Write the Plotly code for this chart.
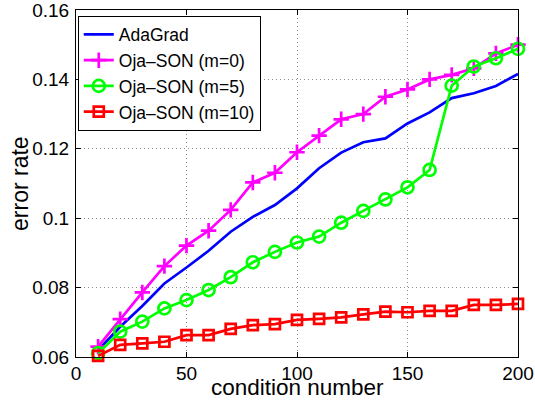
import plotly.graph_objects as go

cond = [10, 20, 30, 40, 50, 60, 70, 80, 90, 100, 110, 120, 130, 140, 150, 160, 170, 180, 190, 200]
adagrad = [0.0620, 0.0687, 0.0747, 0.0812, 0.0858, 0.0906, 0.0961, 0.1004, 0.1038, 0.1086,
           0.1144, 0.1189, 0.1219, 0.1230, 0.1273, 0.1305, 0.1346, 0.1360, 0.1381, 0.1416]
oja_m0 = [0.0630, 0.0709, 0.0786, 0.0862, 0.0921, 0.0964, 0.1024, 0.1103, 0.1131, 0.1190,
          0.1238, 0.1285, 0.1300, 0.1350, 0.1371, 0.1400, 0.1413, 0.1432, 0.1475, 0.1500]
oja_m5 = [0.0611, 0.0673, 0.0702, 0.0740, 0.0764, 0.0793, 0.0830, 0.0873, 0.0903, 0.0930,
          0.0947, 0.0987, 0.1021, 0.1054, 0.1089, 0.1139, 0.1382, 0.1437, 0.1461, 0.1488]
oja_m10 = [0.0603, 0.0635, 0.0639, 0.0644, 0.0663, 0.0663, 0.0681, 0.0692, 0.0695, 0.0707,
           0.0710, 0.0714, 0.0723, 0.0731, 0.0729, 0.0733, 0.0733, 0.0750, 0.0750, 0.0753]

x_ticks = [0, 50, 100, 150, 200]
y_ticks = [0.06, 0.08, 0.1, 0.12, 0.14, 0.16]
y_ticktext = ["0.06", "0.08", "0.1", "0.12", "0.14", "0.16"]

fig = go.Figure()
fig.add_trace(go.Scatter(x=cond, y=adagrad, mode="lines", name="AdaGrad", cliponaxis=False,
                         line=dict(color="#0000ff", width=2.7)))
fig.add_trace(go.Scatter(x=cond, y=oja_m0, mode="lines+markers", name="Oja\u2013SON (m=0)", cliponaxis=False,
                         line=dict(color="#ff00ff", width=2.7),
                         marker=dict(symbol="cross-thin-open", size=11, line=dict(color="#ff00ff", width=2.7))))
fig.add_trace(go.Scatter(x=cond, y=oja_m5, mode="lines+markers", name="Oja\u2013SON (m=5)", cliponaxis=False,
                         line=dict(color="#00ff00", width=2.7),
                         marker=dict(symbol="circle-open", size=12, line=dict(color="#00ff00", width=2.7))))
fig.add_trace(go.Scatter(x=cond, y=oja_m10, mode="lines+markers", name="Oja\u2013SON (m=10)", cliponaxis=False,
                         line=dict(color="#ff0000", width=2.7),
                         marker=dict(symbol="square-open", size=10, line=dict(color="#ff0000", width=2.7))))

axis_common = dict(showline=True, linecolor="black", linewidth=1, mirror="allticks",
                   ticks="inside", ticklen=5, tickcolor="black", automargin=False,
                   ticklabeloverflow="allow",
                   showgrid=True, gridcolor="#8c8c8c", griddash="1px,3px", gridwidth=1,
                   zeroline=False, tickfont=dict(size=19, color="black"))

fig.update_xaxes(range=[0, 200], tickvals=x_ticks, ticklabelstandoff=-1, **axis_common)
fig.update_yaxes(range=[0.06, 0.16], tickvals=y_ticks, ticktext=y_ticktext, ticklabelstandoff=2,
                 **axis_common)

fig.update_layout(
    width=535, height=402,
    margin=dict(l=76, r=17, t=10, b=45),
    paper_bgcolor="white", plot_bgcolor="white",
    font=dict(family="Liberation Sans, Arial, sans-serif", color="black"),
    showlegend=True,
    legend=dict(x=0.004, y=0.984, xanchor="left", yanchor="top",
                bgcolor="white", bordercolor="black", borderwidth=1,
                font=dict(size=17.5, color="black"), tracegroupgap=0, itemwidth=30),
    annotations=[
        dict(text="condition number", xref="paper", yref="paper", x=0.5, y=-0.1297,
             xanchor="center", yanchor="bottom", showarrow=False,
             font=dict(size=22.5, color="black")),
        dict(text="error rate", xref="paper", yref="paper", x=-0.128, y=0.5,
             xanchor="center", yanchor="middle", showarrow=False, textangle=-90,
             font=dict(size=23, color="black")),
    ],
)

fig.write_html("out.html", config={"displayModeBar": False},
               post_script="document.body.style.margin='0';document.body.style.overflow='hidden';")
